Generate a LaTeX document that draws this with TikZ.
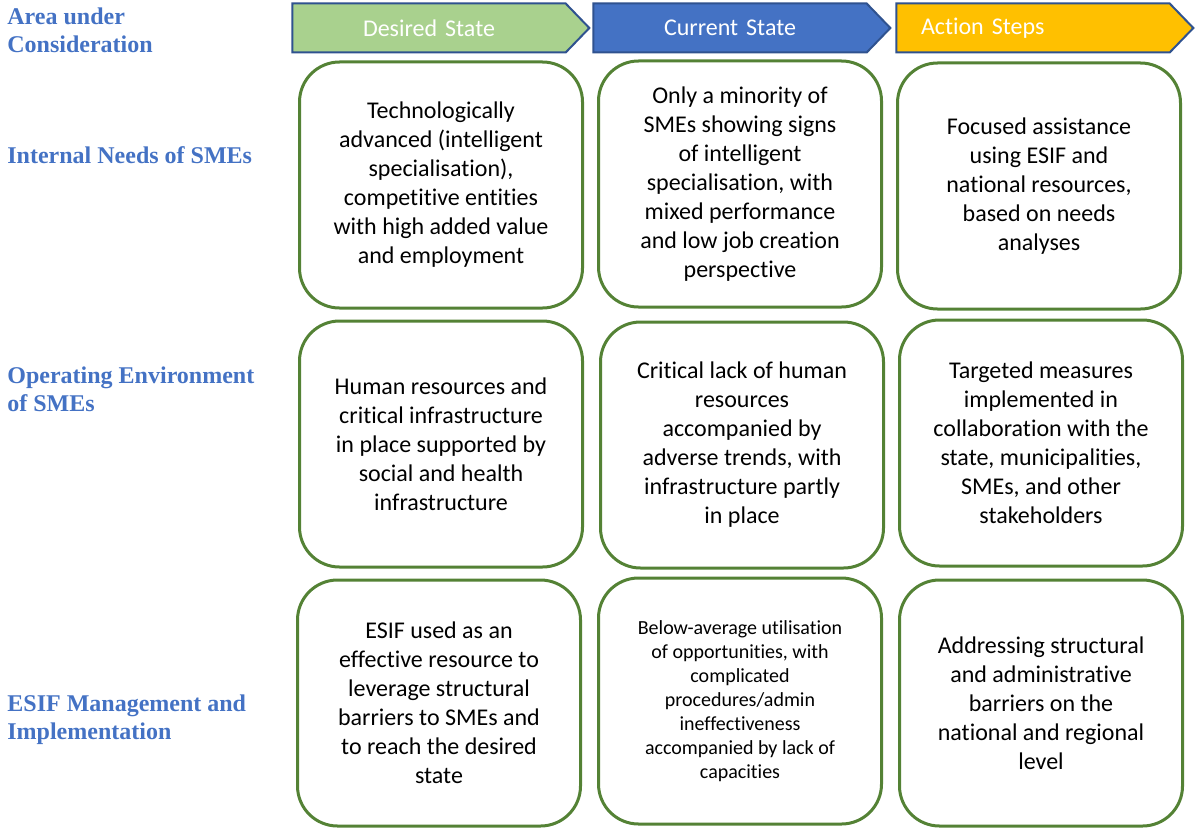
\documentclass[tikz,border=0pt]{standalone}
\usepackage{fontspec}
\setmainfont[RawFeature={-liga;-clig;-calt;-dlig}]{Carlito}
\newfontfamily\areafont{Liberation Serif}
\usetikzlibrary{shapes.symbols}
\definecolor{hgreen}{HTML}{A9D18E}
\definecolor{hblue}{HTML}{4472C4}
\definecolor{hyellow}{HTML}{FFC000}
\definecolor{hedge}{HTML}{2F528F}
\definecolor{cellgreen}{HTML}{548235}
\definecolor{areablue}{HTML}{4472C4}
\begin{document}
\begin{tikzpicture}[x=0.5pt,y=-0.5pt,
    head/.style={signal,signal to=east,signal pointer angle=92,draw=hedge,line width=1pt,
      minimum width=148.5pt,minimum height=24.5pt,text=white,font=\fontsize{12}{14.5}\selectfont,
      text width=112pt,inner xsep=11pt,inner ysep=0pt},
    cell/.style={draw=cellgreen,line width=1.5pt,rounded corners=20pt,fill=white,
      minimum width=141.5pt,minimum height=123pt,align=center,font=\fontsize{12}{14.5}\selectfont},
    area/.style={anchor=west,align=left,inner sep=0pt,text=areablue,
      font=\areafont\bfseries\fontsize{12}{14}\selectfont}]
    \useasboundingbox (0,0) rectangle (1197,829);
    % column heads
    \node[head,fill=hgreen,align=center] (hdes) at (429,28) {Desired State};
    \node[head,fill=hblue,align=center] (hcur) at (730,28) {Current State};
    \node[head,fill=hyellow,align=left] (hact) at (1033,28) {Action Steps};
    % row titles
    \node[area] (aarea) at (7,30) {Area under\\Consideration};
    \node[area] (aint) at (7,155) {Internal Needs of SMEs};
    \node[area] (aops) at (7,389) {Operating Environment\\of SMEs};
    \node[area] (aesif) at (7,720) {ESIF Management and\\Implementation};
    % internal needs
    \node[cell] (d1) at (441,185) {Technologically\\advanced (intelligent\\specialisation),\\competitive entities\\with high added value\\and employment};
    \node[cell] (c1) at (740,184) {Only a minority of\\SMEs showing signs\\of intelligent\\specialisation, with\\mixed performance\\and low job creation\\perspective};
    \node[cell] (s1) at (1039,186) {Focused assistance\\using ESIF and\\national resources,\\based on needs\\analyses};
    % operating environment
    \node[cell] (d2) at (441,444) {Human resources and\\critical infrastructure\\in place supported by\\social and health\\infrastructure};
    \node[cell] (c2) at (742,445) {Critical lack of human\\resources\\accompanied by\\adverse trends, with\\infrastructure partly\\in place};
    \node[cell] (s2) at (1041,443) {Targeted measures\\implemented in\\collaboration with the\\state, municipalities,\\SMEs, and other\\stakeholders};
    % ESIF management
    \node[cell] (d3) at (439,703) {ESIF used as an\\effective resource to\\leverage structural\\barriers to SMEs and\\to reach the desired\\state};
    \node[cell,font=\fontsize{10}{12}\selectfont] (c3) at (740,701) {Below-average utilisation\\of opportunities, with\\complicated\\procedures/admin\\ineffectiveness\\accompanied by lack of\\capacities};
    \node[cell] (s3) at (1041,703) {Addressing structural\\and administrative\\barriers on the\\national and regional\\level};
\end{tikzpicture}
\end{document}
